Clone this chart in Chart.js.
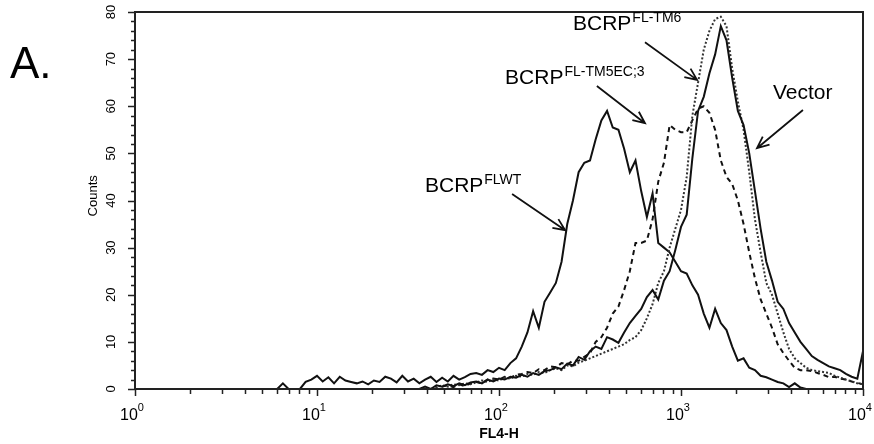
<!DOCTYPE html>
<html>
<head>
<meta charset="utf-8">
<script src="https://cdn.jsdelivr.net/npm/chart.js@4.4.1/dist/chart.umd.min.js"></script>
<style>
  html, body { margin: 0; padding: 0; background: #fff; }
</style>
</head>
<body>
<canvas id="histChart" width="874" height="444"></canvas>
<script>
// histogram channels: 32 per decade, lists start at channel 24
const binsPerDecade = 32;
const firstBin = 24;

const flwt = [
  0, 0, 1.2, 0, 0, 0, 1.5, 2.0,
  2.8, 1.6, 2.5, 1.2, 2.6, 1.8, 1.5, 1.2,
  1.6, 1.0, 1.8, 1.5, 2.6, 2.2, 1.4, 2.8,
  1.6, 2.2, 1.2, 2.0, 2.6, 1.5, 2.4, 1.6,
  2.8, 2.0, 2.5, 3.2, 3.4, 3.0, 4.0, 3.6,
  4.5, 4.0, 5.5, 6.5, 9, 12, 16.5, 13,
  18.5, 20.5, 22.5, 27, 35, 40, 46, 48,
  48.5, 53, 57, 59, 55.5, 55, 51, 46,
  48.5, 42, 36.5, 41.5, 31, 30, 29, 27,
  25, 24.5, 22, 20, 16, 13, 17, 14,
  12.5, 9, 6, 6.5, 4.5, 4, 2.8, 2.5,
  2, 1.5, 1.2, 0.4, 1.2, 0.3, 0, 0,
  0, 0, 0, 0, 0, 0, 0, 0,
  0
];

const tm5ec3 = [
  0, 0, 0, 0, 0, 0, 0, 0,
  0, 0, 0, 0, 0, 0, 0, 0,
  0, 0, 0, 0, 0, 0, 0, 0,
  0, 0, 0, 0, 0, 0, 0.5, 0.8,
  0.4, 1.0, 0.6, 1.2, 1.5, 1.2, 2.0, 2.2,
  2.0, 2.6, 2.4, 3.0, 3.2, 3.6, 3.4, 4.2,
  4.0, 4.8, 4.6, 5.5, 5.2, 6.0, 6.0, 6.8,
  7.6, 10, 11, 13, 16, 17.5, 21, 25,
  31, 31, 31.5, 36, 44, 48, 56, 55,
  54.5, 54.5, 57, 59.5, 60, 58.6, 55, 48.5,
  45, 43.5, 40, 35, 29, 23.5, 19, 16,
  13, 9.5, 7.6, 6, 4.5, 4, 4, 3.8,
  3.4, 3, 2.5, 2.6, 2.2, 2, 1.6, 1.3,
  1
];

const tm6 = [
  0, 0, 0, 0, 0, 0, 0, 0,
  0, 0, 0, 0, 0, 0, 0, 0,
  0, 0, 0, 0, 0, 0, 0, 0,
  0, 0, 0, 0, 0, 0.4, 0.8, 0.5,
  1.0, 0.8, 1.2, 1.0, 1.4, 1.8, 1.5, 2.0,
  1.8, 2.4, 2.2, 2.8, 2.6, 3.2, 3.0, 3.6,
  3.4, 4.0, 4.4, 4.0, 5.0, 4.8, 5.6, 6.0,
  6.5, 7, 7.5, 8, 8.5, 9, 9.5, 10.4,
  11, 12.5, 15, 18, 22.5, 25, 30, 34,
  38, 45, 58, 65, 72, 76, 78.5, 79,
  77, 68, 61, 55, 46, 36, 29, 22.5,
  20, 16, 12, 8.5, 6.5, 5.5, 4.5, 4,
  3.8, 3.6, 3.4, 2.8, 2.4, 2, 1.6, 1.2,
  1
];

const vector = [
  0, 0, 0, 0, 0, 0, 0, 0,
  0, 0, 0, 0, 0, 0, 0, 0,
  0, 0, 0, 0, 0, 0, 0, 0,
  0, 0, 0, 0.5, 0, 0.8, 0.5, 1.0,
  0.6, 1.2, 0.8, 1.4, 1.6, 1.2, 2.0, 1.6,
  2.2, 2.0, 2.6, 2.4, 3.0, 2.6, 3.4, 3.0,
  3.8, 4.0, 4.6, 4.2, 5.4, 5.0, 6.8, 6.2,
  8, 9, 8.5, 11, 10.5, 9.8, 12, 14,
  15.5, 17, 19.5, 21, 19, 23, 25, 29.5,
  34.4, 37, 49, 59, 62, 67, 71, 77,
  74, 66, 59, 56, 50, 42, 34, 27,
  23, 18.5, 17, 14, 12, 10, 8.5, 7,
  6.2, 5.5, 4.8, 4.4, 4, 3.2, 2.6, 2.2,
  8
];

const yTickValues = [0, 10, 20, 30, 40, 50, 60, 70, 80];
const xTickValues = [1, 10, 100, 1000, 10000];
const xTickExponents = ['0', '1', '2', '3', '4'];

// callout labels, positions in data units
const callouts = [
  { base: 'BCRP', sup: 'FLWT', at: [39.2, 41.8], from: [118, 41.4], to: [231, 33.7] },
  { base: 'BCRP', sup: 'FL-TM5EC;3', at: [108, 64.7], from: [345, 64.3], to: [634, 56.4] },
  { base: 'BCRP', sup: 'FL-TM6', at: [255, 76.2], from: [634, 73.6], to: [1225, 65.6] },
  { base: 'Vector', sup: '', at: [3201, 61.5], from: [4678, 59.2], to: [2616, 51.1] }
];

const toPoints = values => values.map((v, i) => ({ x: 10 ** ((firstBin + i) / binsPerDecade), y: v }));

const FONT = '"Liberation Sans", Arial, sans-serif';

const axesPlugin = {
  id: 'axesPlugin',
  afterDatasetsDraw(chart) {
    const { ctx, chartArea: a, scales: { x, y } } = chart;
    ctx.save();
    ctx.strokeStyle = '#222';
    ctx.fillStyle = '#000';

    // frame
    ctx.lineWidth = 2;
    ctx.strokeRect(a.left, a.top, a.right - a.left, a.bottom - a.top);

    // y ticks, every 2 counts
    ctx.lineWidth = 1.5;
    ctx.beginPath();
    for (let v = 0; v <= 80; v += 2) {
      const py = Math.round(y.getPixelForValue(v)) + 0.5;
      const len = v % 10 === 0 ? 7 : 4;
      ctx.moveTo(a.left - len, py);
      ctx.lineTo(a.left, py);
    }
    // x ticks, log decades
    for (let d = 0; d < 4; d++) {
      for (let k = 1; k < 10; k++) {
        const px = Math.round(x.getPixelForValue(k * 10 ** d)) + 0.5;
        const len = k === 1 ? 7 : 5;
        ctx.moveTo(px, a.bottom);
        ctx.lineTo(px, a.bottom + len);
      }
    }
    const pxEnd = Math.round(x.getPixelForValue(10000)) + 0.5;
    ctx.moveTo(pxEnd, a.bottom);
    ctx.lineTo(pxEnd, a.bottom + 7);
    ctx.stroke();

    // y tick labels, rotated
    ctx.font = '13px ' + FONT;
    ctx.textAlign = 'center';
    ctx.textBaseline = 'middle';
    yTickValues.forEach(v => {
      ctx.save();
      ctx.translate(a.left - 24, y.getPixelForValue(v));
      ctx.rotate(-Math.PI / 2);
      ctx.fillText(String(v), 0, 0);
      ctx.restore();
    });

    // x tick labels 10^n
    ctx.textBaseline = 'alphabetic';
    ctx.textAlign = 'left';
    xTickValues.forEach((v, i) => {
      const px = x.getPixelForValue(v);
      ctx.font = '16px ' + FONT;
      const wBase = ctx.measureText('10').width;
      ctx.font = '11px ' + FONT;
      const wSup = ctx.measureText(xTickExponents[i]).width;
      const left = px - 3 - (wBase + wSup) / 2;
      ctx.font = '16px ' + FONT;
      ctx.fillText('10', left, a.bottom + 31);
      ctx.font = '11px ' + FONT;
      ctx.fillText(xTickExponents[i], left + wBase, a.bottom + 22);
    });

    // axis titles
    ctx.textAlign = 'center';
    ctx.font = 'bold 14px ' + FONT;
    ctx.fillText('FL4-H', x.getPixelForValue(100), a.bottom + 49);
    ctx.save();
    ctx.translate(a.left - 42, y.getPixelForValue(41));
    ctx.rotate(-Math.PI / 2);
    ctx.font = '13px ' + FONT;
    ctx.textBaseline = 'middle';
    ctx.fillText('Counts', 0, 0);
    ctx.restore();

    // panel letter
    ctx.textAlign = 'left';
    ctx.font = '44px ' + FONT;
    ctx.fillText('A.', 10, 78);

    // callouts
    callouts.forEach(c => {
      const tx = x.getPixelForValue(c.at[0]);
      const ty = y.getPixelForValue(c.at[1]);
      ctx.font = '21px ' + FONT;
      ctx.fillText(c.base, tx, ty);
      const w = ctx.measureText(c.base).width;
      if (c.sup) {
        ctx.font = '14px ' + FONT;
        ctx.fillText(c.sup, tx + w + 1, ty - 8);
      }
      const x0 = x.getPixelForValue(c.from[0]), y0 = y.getPixelForValue(c.from[1]);
      const x1 = x.getPixelForValue(c.to[0]), y1 = y.getPixelForValue(c.to[1]);
      const ang = Math.atan2(y1 - y0, x1 - x0);
      const head = 13;
      ctx.lineWidth = 1.8;
      ctx.strokeStyle = '#111';
      ctx.beginPath();
      ctx.moveTo(x0, y0);
      ctx.lineTo(x1, y1);
      ctx.moveTo(x1 - head * Math.cos(ang - 0.42), y1 - head * Math.sin(ang - 0.42));
      ctx.lineTo(x1, y1);
      ctx.lineTo(x1 - head * Math.cos(ang + 0.42), y1 - head * Math.sin(ang + 0.42));
      ctx.stroke();
    });
    ctx.restore();
  }
};

new Chart(document.getElementById('histChart'), {
  type: 'line',
  data: {
    datasets: [
      { label: 'Vector', data: toPoints(vector), borderColor: '#111', borderWidth: 2 },
      { label: 'BCRP FL-TM6', data: toPoints(tm6), borderColor: '#333', borderWidth: 2, borderDash: [2, 2] },
      { label: 'BCRP FL-TM5EC;3', data: toPoints(tm5ec3), borderColor: '#111', borderWidth: 2, borderDash: [5, 4] },
      { label: 'BCRP FLWT', data: toPoints(flwt), borderColor: '#111', borderWidth: 2 }
    ]
  },
  options: {
    responsive: false,
    animation: false,
    devicePixelRatio: 1,
    layout: { padding: { left: 135, right: 11, top: 12, bottom: 55 } },
    elements: { point: { radius: 0 }, line: { tension: 0, fill: false } },
    plugins: { legend: { display: false }, tooltip: { enabled: false } },
    scales: {
      x: { type: 'logarithmic', min: 1, max: 10000, display: false },
      y: { type: 'linear', min: 0, max: 80, display: false }
    }
  },
  plugins: [axesPlugin]
});
</script>
</body>
</html>
